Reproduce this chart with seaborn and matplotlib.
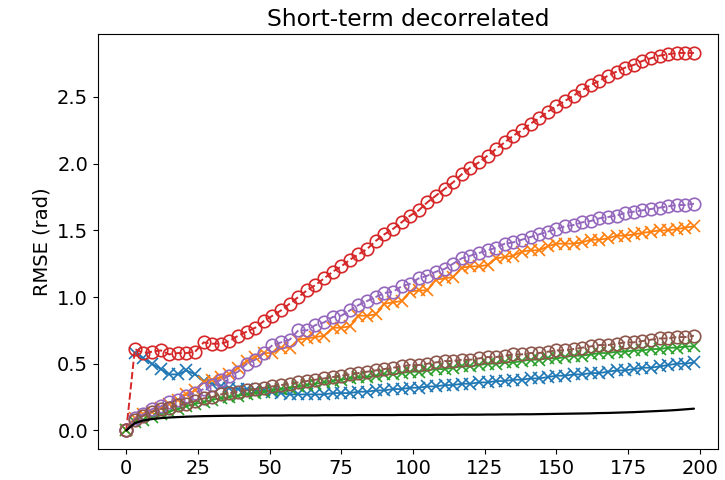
import numpy as np
import pandas as pd
import seaborn as sns
from matplotlib import pyplot as plt

# time steps
steps = list(range(0, 199, 3))

# x-marker series (solid lines)
rmse_blue = [np.nan, 0.58, 0.54, 0.50, 0.46, 0.42, 0.42, 0.45, 0.42, 0.37,
             0.35, 0.33, 0.32, 0.31, 0.31, 0.30, 0.30, 0.29, 0.28, 0.27,
             0.27, 0.27, 0.27, 0.27, 0.28, 0.28, 0.28, 0.29, 0.29, 0.30,
             0.30, 0.31, 0.31, 0.32, 0.32, 0.33, 0.33, 0.34, 0.34, 0.35,
             0.35, 0.36, 0.36, 0.37, 0.37, 0.38, 0.38, 0.39, 0.39, 0.40,
             0.41, 0.41, 0.42, 0.42, 0.43, 0.43, 0.44, 0.45, 0.45, 0.46,
             0.47, 0.47, 0.48, 0.49, 0.50, 0.50, 0.51]
rmse_orange = [0.00, 0.09, 0.12, 0.14, 0.17, 0.20, 0.23, 0.27, 0.30, 0.36,
               0.38, 0.40, 0.42, 0.47, 0.52, 0.55, 0.58, 0.58, 0.62, 0.62,
               0.68, 0.69, 0.70, 0.71, 0.77, 0.77, 0.78, 0.86, 0.86, 0.87,
               0.95, 0.96, 0.97, 1.04, 1.05, 1.05, 1.13, 1.14, 1.15, 1.22,
               1.23, 1.23, 1.24, 1.29, 1.30, 1.31, 1.34, 1.35, 1.35, 1.38,
               1.40, 1.40, 1.40, 1.41, 1.43, 1.43, 1.44, 1.46, 1.46, 1.47,
               1.48, 1.49, 1.50, 1.50, 1.51, 1.52, 1.53]
rmse_green = [0.00, 0.06, 0.08, 0.10, 0.12, 0.14, 0.16, 0.18, 0.20, 0.21,
              0.23, 0.24, 0.25, 0.26, 0.27, 0.28, 0.29, 0.30, 0.31, 0.32,
              0.33, 0.34, 0.35, 0.36, 0.37, 0.38, 0.39, 0.40, 0.40, 0.41,
              0.42, 0.42, 0.43, 0.44, 0.44, 0.45, 0.46, 0.46, 0.47, 0.48,
              0.48, 0.49, 0.50, 0.50, 0.51, 0.51, 0.52, 0.53, 0.53, 0.54,
              0.54, 0.55, 0.56, 0.56, 0.57, 0.58, 0.58, 0.59, 0.59, 0.60,
              0.60, 0.61, 0.61, 0.62, 0.62, 0.63, 0.63]

# circle-marker series (dashed lines)
rmse_red = [0.00, 0.61, 0.58, 0.59, 0.60, 0.57, 0.58, 0.58, 0.59, 0.66,
            0.65, 0.65, 0.67, 0.71, 0.74, 0.77, 0.82, 0.86, 0.90, 0.95,
            1.00, 1.05, 1.09, 1.14, 1.19, 1.23, 1.28, 1.32, 1.36, 1.42,
            1.47, 1.51, 1.56, 1.61, 1.65, 1.71, 1.76, 1.81, 1.86, 1.92,
            1.97, 2.01, 2.06, 2.11, 2.16, 2.21, 2.25, 2.30, 2.34, 2.39,
            2.43, 2.47, 2.51, 2.55, 2.59, 2.62, 2.66, 2.69, 2.72, 2.74,
            2.77, 2.79, 2.81, 2.82, 2.83, 2.83, 2.83]
rmse_purple = [0.00, 0.09, 0.12, 0.16, 0.18, 0.21, 0.23, 0.26, 0.28, 0.31,
               0.34, 0.38, 0.41, 0.44, 0.50, 0.53, 0.58, 0.64, 0.66, 0.68,
               0.75, 0.75, 0.79, 0.81, 0.85, 0.86, 0.90, 0.94, 0.97, 1.00,
               1.03, 1.04, 1.08, 1.10, 1.14, 1.16, 1.19, 1.21, 1.25, 1.29,
               1.31, 1.33, 1.35, 1.37, 1.40, 1.41, 1.43, 1.45, 1.47, 1.49,
               1.51, 1.53, 1.54, 1.56, 1.57, 1.59, 1.60, 1.61, 1.63, 1.64,
               1.65, 1.66, 1.67, 1.68, 1.69, 1.69, 1.70]
rmse_brown = [0.00, 0.08, 0.11, 0.14, 0.16, 0.17, 0.19, 0.20, 0.22, 0.24,
              0.25, 0.27, 0.28, 0.29, 0.30, 0.31, 0.32, 0.33, 0.34, 0.35,
              0.36, 0.37, 0.38, 0.39, 0.40, 0.41, 0.42, 0.43, 0.44, 0.45,
              0.46, 0.47, 0.48, 0.49, 0.49, 0.50, 0.51, 0.52, 0.52, 0.53,
              0.53, 0.54, 0.55, 0.55, 0.56, 0.57, 0.57, 0.58, 0.58, 0.59,
              0.60, 0.60, 0.61, 0.62, 0.63, 0.64, 0.64, 0.65, 0.66, 0.66,
              0.67, 0.68, 0.69, 0.69, 0.70, 0.70, 0.71]

# reference bound (black line)
rmse_bound = [0.000, 0.055, 0.075, 0.085, 0.092, 0.097, 0.100, 0.103, 0.105, 0.107,
              0.108, 0.109, 0.110, 0.110, 0.111, 0.111, 0.112, 0.112, 0.112, 0.113,
              0.113, 0.113, 0.113, 0.114, 0.114, 0.114, 0.114, 0.115, 0.115, 0.115,
              0.115, 0.115, 0.116, 0.116, 0.116, 0.116, 0.117, 0.117, 0.117, 0.118,
              0.118, 0.118, 0.119, 0.119, 0.120, 0.120, 0.121, 0.121, 0.122, 0.123,
              0.124, 0.125, 0.126, 0.127, 0.128, 0.130, 0.131, 0.133, 0.135, 0.137,
              0.140, 0.143, 0.146, 0.149, 0.153, 0.158, 0.163]

df = pd.DataFrame({
    "t": steps,
    "blue": rmse_blue, "orange": rmse_orange, "green": rmse_green,
    "red": rmse_red, "purple": rmse_purple, "brown": rmse_brown,
    "bound": rmse_bound,
})

sns.set_style("ticks", {"axes.edgecolor": "black", "text.color": "black",
                        "axes.labelcolor": "black", "xtick.color": "black",
                        "ytick.color": "black"})
plt.rcParams["font.family"] = ["DejaVu Sans"]
plt.rcParams["font.size"] = 14

pal = sns.color_palette("tab10")

fig, ax = plt.subplots(figsize=(7.25, 4.8), dpi=100)

for col, c in [("blue", pal[0]), ("orange", pal[1]), ("green", pal[2])]:
    sns.lineplot(data=df, x="t", y=col, ax=ax, color=c, marker="x",
                 markersize=8, markeredgecolor=c, markeredgewidth=1.2,
                 linewidth=1.3)

for col, c in [("red", pal[3]), ("purple", pal[4]), ("brown", pal[5])]:
    sns.lineplot(data=df, x="t", y=col, ax=ax, color=c, marker="o",
                 markersize=9, markerfacecolor="none", markeredgecolor=c,
                 markeredgewidth=1.2, linestyle="--", linewidth=1.4)

sns.lineplot(data=df, x="t", y="bound", ax=ax, color="black", linewidth=1.6)

ax.set_xlim(-9.9, 206.3)
ax.set_xlabel("")
ax.set_ylabel("RMSE (rad)")
ax.set_title("Short-term decorrelated")

fig.subplots_adjust(left=0.135, right=0.99, top=0.929, bottom=0.064)
fig.savefig("out.png", dpi=100)
